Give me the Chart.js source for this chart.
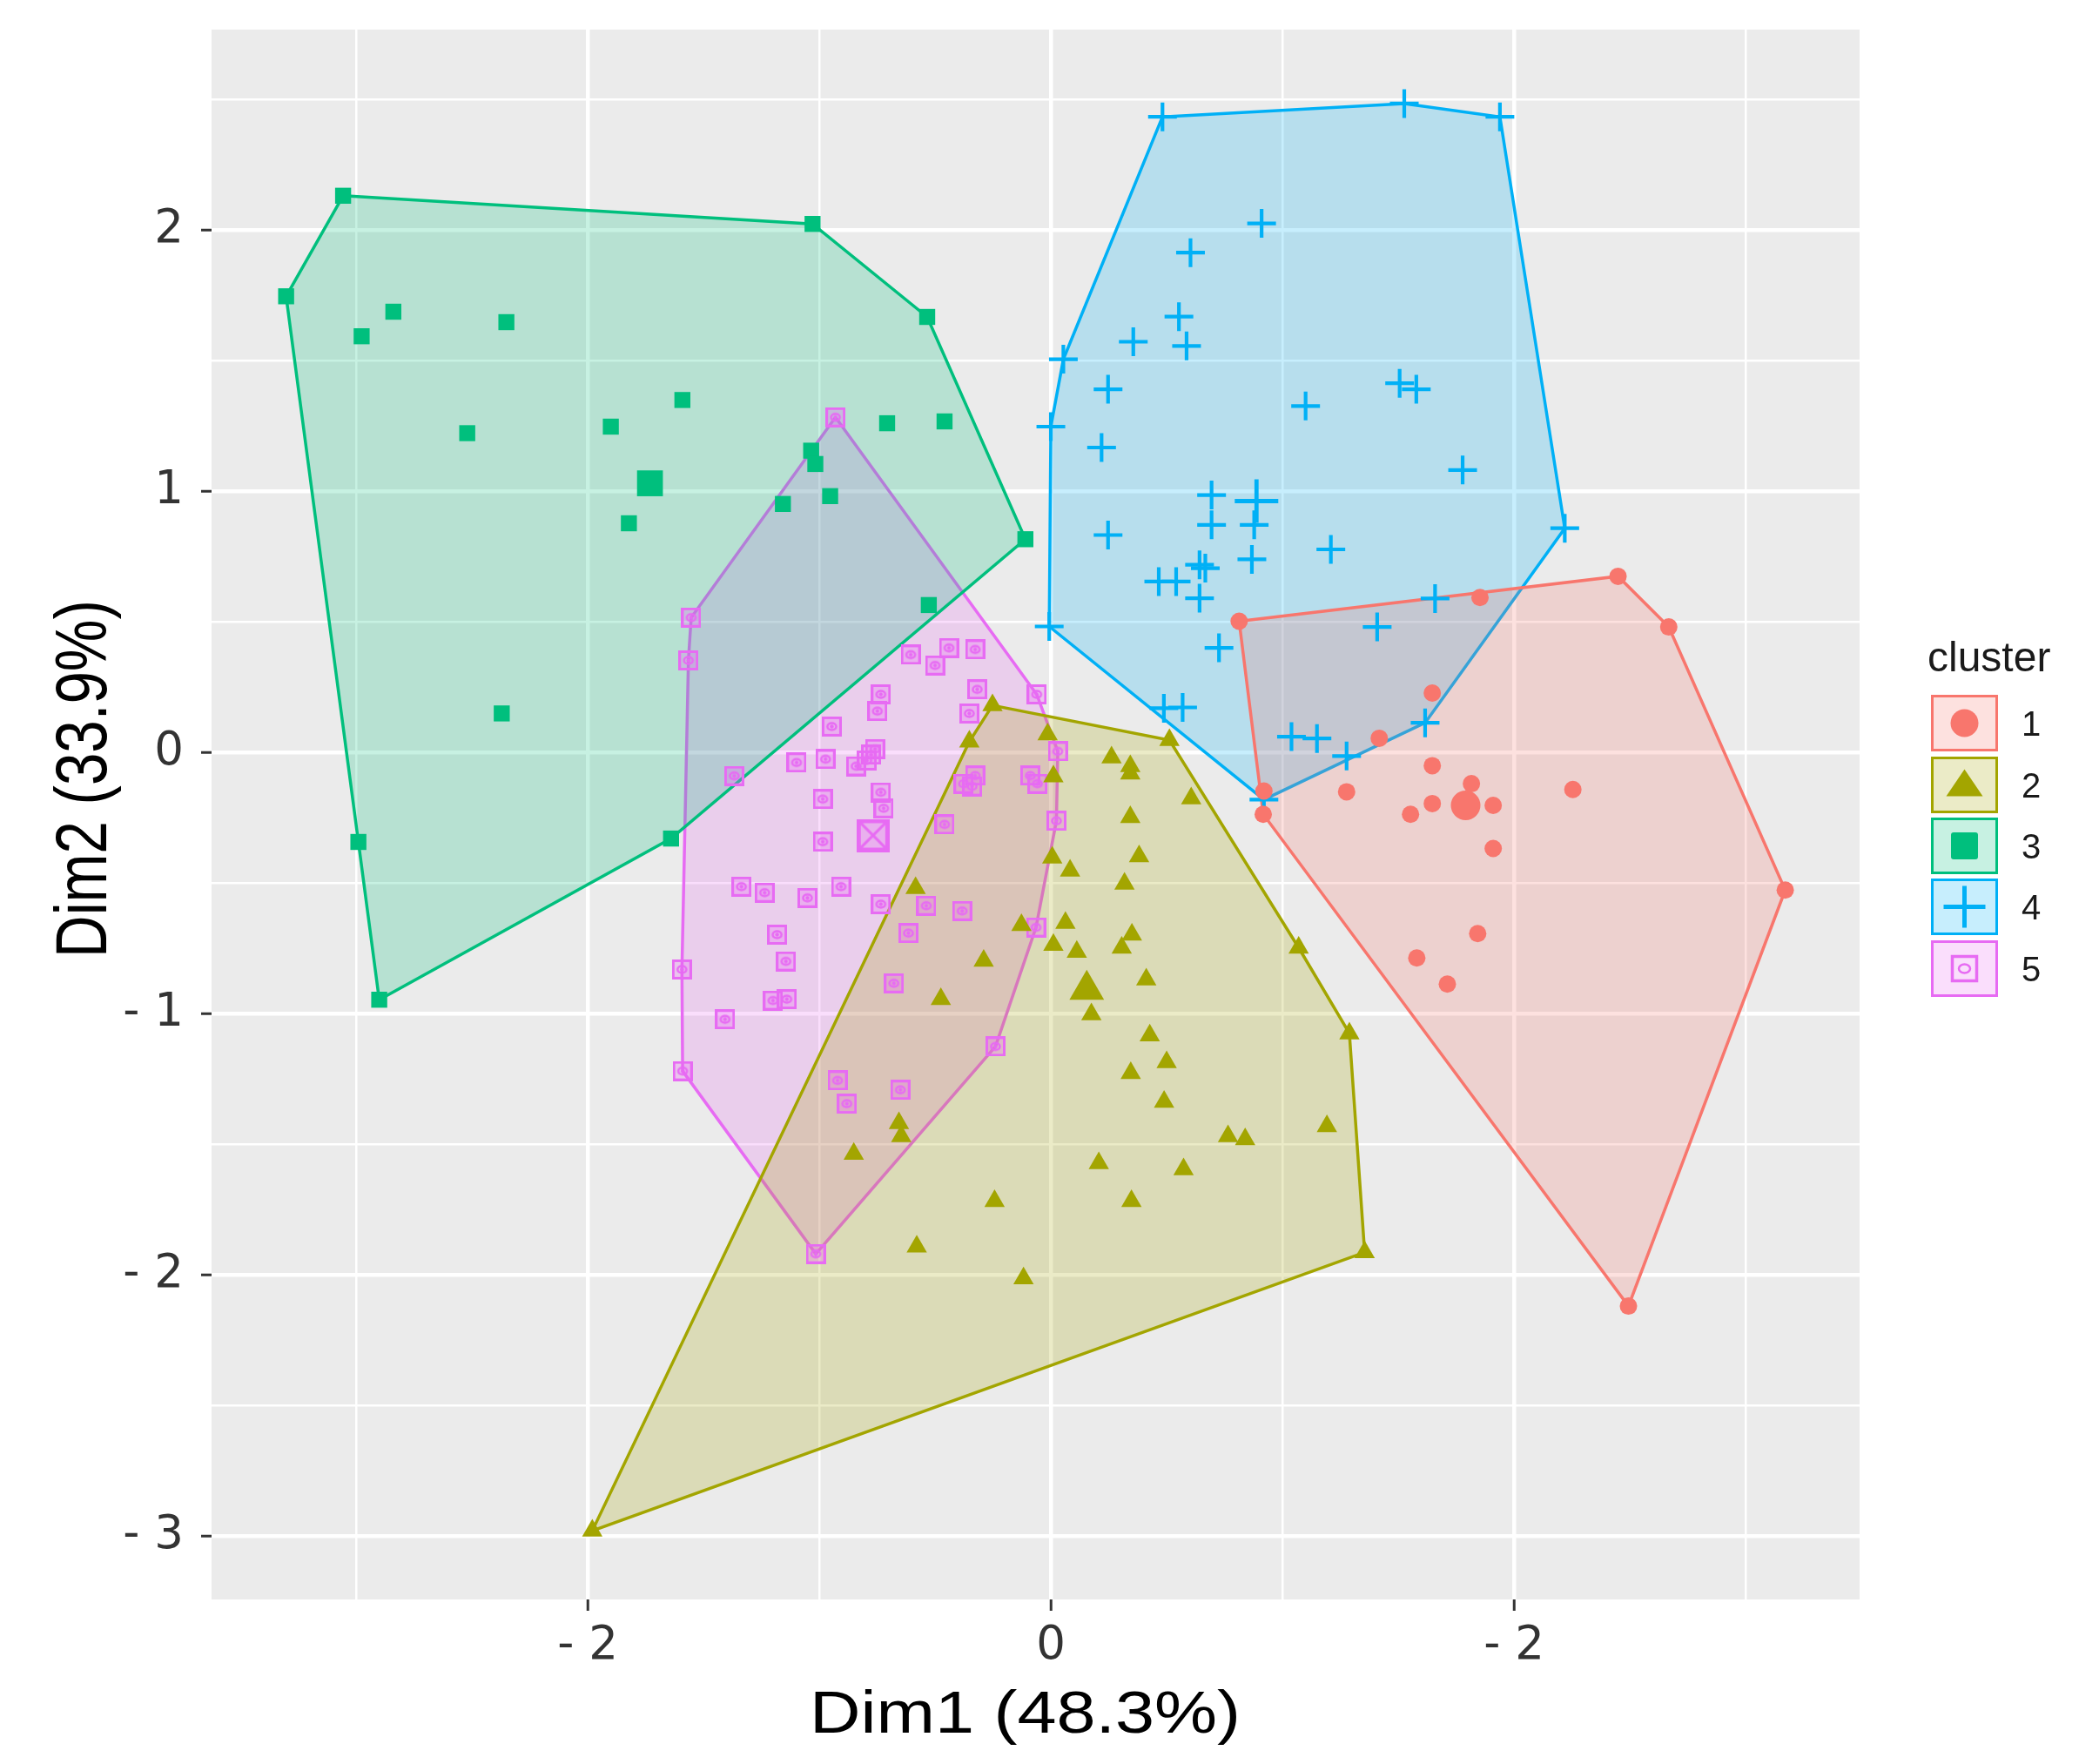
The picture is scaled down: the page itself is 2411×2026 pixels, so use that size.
<!DOCTYPE html>
<html>
<head>
<meta charset="utf-8">
<script src="https://cdn.jsdelivr.net/npm/chart.js@4.4.1/dist/chart.umd.min.js"></script>
<style>
  html, body { margin:0; padding:0; background:#fff; }
  body { width:2411px; height:2026px; position:relative; overflow:hidden; font-family:"Liberation Sans", Arial, sans-serif; }
  #c { position:absolute; left:0; top:0; }
  #legend { position:absolute; left:2212px; top:722px; }
  #legend .ttl { position:absolute; left:2px; top:0; font-size:48px; color:#1a1a1a; white-space:nowrap; line-height:66px; }
  #legend .row { position:absolute; left:6px; width:200px; height:66px; }
  #legend .key { position:absolute; left:0; top:0; width:71px; height:59px; border:3px solid; }
  #legend .key svg { position:absolute; left:0; top:0; }
  #legend .lab { position:absolute; left:104px; top:0; line-height:66px; font-size:40px; color:#1a1a1a; }
</style>
</head>
<body>
<canvas id="c" width="2411" height="2026" style="width:2411px;height:2026px"></canvas>
<div id="legend"></div>
<script>
// ---------------- data ----------------
const clusterNames = ["1", "2", "3", "4", "5"];
const clusterColors = ["#F8766D", "#A3A500", "#00BF7D", "#00B0F6", "#E76BF3"];

const xTitle = "Dim1 (48.3%)";
const yTitle = "Dim2 (33.9%)";
const xMajorTicks = [-2, 0, 2];
const xMajorText  = ["- 2", "0", "- 2"];
const xMinorTicks = [-3, -1, 1, 3];
const yMajorTicks = [-3, -2, -1, 0, 1, 2];
const yMajorText  = ["- 3", "- 2", "- 1", "0", "1", "2"];
const yMinorTicks = [-2.5, -1.5, -0.5, 0.5, 1.5, 2.5];

// cluster 1 (circles)
const hull1 = [[0.813,0.502],[2.449,0.674],[2.668,0.48],[3.171,-0.527],[2.494,-2.12],[0.917,-0.237]];
const pts1 = [[1.853,0.593],[1.647,0.227],[1.418,0.054],[0.92,-0.148],[1.277,-0.151],[1.647,-0.051],[1.816,-0.12],
  [1.647,-0.196],[1.553,-0.237],[1.91,-0.203],[2.254,-0.142],[1.91,-0.368],[1.843,-0.694],[1.58,-0.787],[1.712,-0.887]];
const center1 = [1.791,-0.203];

// cluster 2 (triangles)
const hull2 = [[-0.252,0.18],[0.512,0.047],[1.07,-0.748],[1.289,-1.076],[1.355,-1.914],[-1.98,-2.98],[-0.352,0.041]];
const pts2 = [[-0.014,0.069],[0.262,-0.02],[0.343,-0.053],[0.343,-0.081],[0.011,-0.092],[0.606,-0.176],[0.343,-0.248],
  [0.381,-0.398],[0.006,-0.403],[0.083,-0.453],[0.318,-0.503],[-0.584,-0.52],[0.063,-0.653],[-0.127,-0.661],[0.35,-0.698],
  [0.011,-0.737],[0.112,-0.764],[0.306,-0.748],[-0.29,-0.798],[0.412,-0.87],[-0.475,-0.945],[0.175,-1.003],[0.427,-1.084],
  [0.5,-1.186],[0.345,-1.228],[0.489,-1.338],[1.192,-1.431],[0.765,-1.47],[0.839,-1.481],[0.207,-1.573],[0.573,-1.596],
  [0.348,-1.718],[-0.243,-1.718],[-0.579,-1.892],[-0.118,-2.014],[-0.656,-1.42],[-0.646,-1.47],[-0.851,-1.537]];
const center2 = [0.155,-0.909];

// cluster 3 (squares)
const hull3 = [[-3.056,2.131],[-1.029,2.023],[-0.534,1.667],[-0.11,0.816],[-1.64,-0.33],[-2.90,-0.947],[-2.99,-0.343],[-3.302,1.746]];
const pts3 = [[-2.839,1.687],[-2.976,1.593],[-2.351,1.647],[-1.591,1.349],[-2.52,1.222],[-1.90,1.247],[-1.822,0.877],
  [-1.035,1.155],[-1.017,1.104],[-1.157,0.951],[-0.953,0.981],[-0.707,1.26],[-0.459,1.267],[-0.527,0.564],[-2.371,0.149]];
const center3 = [-1.731,1.03];

// cluster 4 (crosses)
const hull4 = [[0.482,2.433],[1.526,2.484],[1.939,2.433],[2.219,0.858],[1.616,0.113],[0.92,-0.181],[-0.007,0.482],[0.0,1.247],[0.054,1.505]];
const pts4 = [[0.91,2.025],[0.603,1.913],[0.553,1.668],[0.356,1.572],[0.586,1.556],[0.247,1.39],[0.219,1.167],[1.10,1.326],
  [1.506,1.413],[1.578,1.39],[1.778,1.081],[0.694,0.985],[0.694,0.871],[0.878,0.871],[0.247,0.832],[1.209,0.777],[0.868,0.739],
  [0.642,0.718],[0.667,0.705],[0.466,0.654],[0.541,0.654],[0.642,0.59],[0.726,0.40],[1.409,0.48],[1.659,0.589],[0.488,0.169],
  [0.569,0.172],[1.039,0.06],[1.149,0.053],[1.277,-0.014]];
const center4 = [0.888,0.962];

// cluster 5 (boxed circles)
const hull5 = [[-0.93,1.283],[-0.061,0.222],[0.03,0.004],[0.024,-0.262],[-0.064,-0.67],[-0.239,-1.126],[-1.015,-1.92],
  [-1.59,-1.22],[-1.593,-0.831],[-1.565,0.352],[-1.553,0.516]];
const pts5 = [[-1.367,-0.09],[-0.605,0.374],[-0.44,0.40],[-0.50,0.333],[-0.327,0.394],[-0.734,0.222],[-0.749,0.158],
  [-0.318,0.241],[-0.352,0.149],[-0.946,0.099],[-0.759,0.013],[-0.776,-0.009],[-0.795,-0.031],[-0.841,-0.053],[-1.098,-0.039],
  [-0.973,-0.026],[-0.327,-0.089],[-0.377,-0.12],[-0.34,-0.13],[-0.089,-0.089],[-0.058,-0.12],[-0.985,-0.179],[-0.734,-0.153],
  [-0.722,-0.214],[-0.459,-0.276],[-0.985,-0.342],[-1.336,-0.514],[-1.236,-0.537],[-1.051,-0.557],[-0.906,-0.514],
  [-0.734,-0.581],[-0.538,-0.587],[-0.383,-0.607],[-0.615,-0.692],[-1.182,-0.698],[-1.144,-0.80],[-0.678,-0.884],
  [-1.2,-0.95],[-1.14,-0.945],[-1.407,-1.022],[-0.921,-1.256],[-0.881,-1.345],[-0.65,-1.292]];
const center5 = [-0.768,-0.318];

const hulls = [hull1, hull2, hull3, hull4, hull5];
const points = [pts1, pts2, pts3, pts4, pts5];
const centers = [center1, center2, center3, center4, center5];

// ---------------- helpers ----------------
function rgba(hex, a) {
  const n = parseInt(hex.slice(1), 16);
  return `rgba(${(n >> 16) & 255},${(n >> 8) & 255},${n & 255},${a})`;
}
function boxMarker(size, color, cross) {
  const c = document.createElement('canvas');
  c.width = size; c.height = size;
  const g = c.getContext('2d');
  const lw = Math.max(3, size * 0.13);
  g.fillStyle = rgba(color, 0.3);
  g.fillRect(0, 0, size, size);
  g.strokeStyle = color; g.lineWidth = lw;
  g.strokeRect(lw / 2, lw / 2, size - lw, size - lw);
  g.lineWidth = Math.max(2.5, size * 0.08);
  g.beginPath();
  if (cross) {
    g.moveTo(lw, lw); g.lineTo(size - lw, size - lw);
    g.moveTo(size - lw, lw); g.lineTo(lw, size - lw);
  } else {
    g.ellipse(size / 2, size / 2, size * 0.22, size * 0.17, 0, 0, Math.PI * 2);
  }
  g.stroke();
  if (!cross) { g.fillStyle = color; g.beginPath(); g.arc(size/2, size/2, 2.2, 0, Math.PI*2); g.fill(); }
  return c;
}
const pinkSmall = boxMarker(23, clusterColors[4], false);
const pinkBig = boxMarker(38, clusterColors[4], true);

const styleSmall = [
  {pointStyle:'circle', pointRadius:10, borderWidth:0},
  {pointStyle:'triangle', pointRadius:13.5, borderWidth:0},
  {pointStyle:'rect', pointRadius:13, borderWidth:0},
  {pointStyle:'cross', pointRadius:16.5, borderWidth:4.2},
  {pointStyle:pinkSmall, pointRadius:11.5, borderWidth:0}
];
const styleBig = [
  {pointStyle:'circle', pointRadius:17, borderWidth:0},
  {pointStyle:'triangle', pointRadius:23, borderWidth:0},
  {pointStyle:'rect', pointRadius:21, borderWidth:0},
  {pointStyle:'cross', pointRadius:25, borderWidth:4.8},
  {pointStyle:pinkBig, pointRadius:19, borderWidth:0}
];

const toXY = arr => arr.map(p => ({x: p[0], y: p[1]}));

const datasets = [];
for (let k = 0; k < 5; k++) {
  const col = clusterColors[k];
  datasets.push({
    type: 'line',
    label: 'hull ' + clusterNames[k],
    data: toXY(hulls[k].concat([hulls[k][0]])),
    borderColor: col,
    borderWidth: 3.5,
    backgroundColor: rgba(col, 0.22),
    fill: 'shape',
    tension: 0,
    pointRadius: 0,
    order: 10 + k
  });
}
for (let k = 0; k < 5; k++) {
  const col = clusterColors[k];
  datasets.push(Object.assign({
    type: 'scatter',
    label: 'cluster ' + clusterNames[k],
    data: toXY(hulls[k].concat(points[k])),
    backgroundColor: col,
    borderColor: col,
    order: 1
  }, styleSmall[k]));
  datasets.push(Object.assign({
    type: 'scatter',
    label: 'center ' + clusterNames[k],
    data: toXY([centers[k]]),
    backgroundColor: col,
    borderColor: col,
    order: 0
  }, styleBig[k]));
}

const panelBg = {
  id: 'panelBg',
  beforeDraw(chart) {
    const {ctx, chartArea: a} = chart;
    ctx.save();
    ctx.fillStyle = '#FFFFFF';
    ctx.fillRect(0, 0, chart.width, chart.height);
    ctx.fillStyle = '#EBEBEB';
    ctx.fillRect(a.left, a.top, a.right - a.left, a.bottom - a.top);
    ctx.restore();
  }
};

// axis titles (drawn with a slight anisotropic scale to match the reference lettering)
const axisTitles = {
  id: 'axisTitles',
  afterDraw(chart) {
    const ctx = chart.ctx;
    const xs = chart.scales.x, ys = chart.scales.y;
    ctx.save();
    ctx.fillStyle = '#000000';
    ctx.textAlign = 'center';
    ctx.textBaseline = 'alphabetic';
    ctx.font = "81px 'Liberation Sans', Arial, sans-serif";
    ctx.translate((xs.left + xs.right) / 2 - 12, 1990);
    ctx.scale(1, 0.84);
    ctx.fillText(xTitle, 0, 0);
    ctx.restore();

    ctx.save();
    ctx.fillStyle = '#000000';
    ctx.textAlign = 'center';
    ctx.textBaseline = 'alphabetic';
    ctx.font = "84px 'Liberation Sans', Arial, sans-serif";
    ctx.translate(122, (ys.top + ys.bottom) / 2 - 41);
    ctx.rotate(-Math.PI / 2);
    ctx.scale(0.80, 1);
    ctx.fillText(yTitle, 0, 0);
    ctx.restore();
  }
};

const FONT = "'DejaVu Sans', 'Liberation Sans', sans-serif";
const isMajor = (list, v) => list.some(t => Math.abs(t - v) < 1e-9);

new Chart(document.getElementById('c'), {
  type: 'scatter',
  data: { datasets },
  plugins: [panelBg, axisTitles],
  options: {
    responsive: false,
    devicePixelRatio: 1,
    animation: false,
    events: [],
    layout: { padding: { top: 34, right: 275, left: 0, bottom: 0 } },
    plugins: { legend: { display: false }, tooltip: { enabled: false } },
    scales: {
      x: {
        type: 'linear',
        min: -3.624, max: 3.492,
        afterBuildTicks: axis => {
          axis.ticks = xMajorTicks.concat(xMinorTicks).sort((a, b) => a - b).map(v => ({value: v}));
        },
        afterFit: s => { s.height = 189; s.paddingLeft = 0; s.paddingRight = 0; },
        border: { display: false },
        grid: {
          color: '#FFFFFF',
          lineWidth: c => isMajor(xMajorTicks, c.tick.value) ? 4.5 : 2.5,
          tickColor: c => isMajor(xMajorTicks, c.tick.value) ? '#333333' : 'rgba(0,0,0,0)',
          tickLength: 13,
          tickWidth: 3
        },
        ticks: {
          autoSkip: false, maxRotation: 0, minRotation: 0,
          padding: 9,
          color: '#333333',
          font: { family: FONT, size: 53 },
          callback: v => { const i = xMajorTicks.findIndex(t => Math.abs(t - v) < 1e-9); return i >= 0 ? xMajorText[i] : ''; }
        },
        title: { display: false }
      },
      y: {
        type: 'linear',
        min: -3.243, max: 2.767,
        afterBuildTicks: axis => {
          axis.ticks = yMajorTicks.concat(yMinorTicks).sort((a, b) => a - b).map(v => ({value: v}));
        },
        afterFit: s => { s.width = 243; s.paddingTop = 0; s.paddingBottom = 0; },
        border: { display: false },
        grid: {
          color: '#FFFFFF',
          lineWidth: c => isMajor(yMajorTicks, c.tick.value) ? 4.5 : 2.5,
          tickColor: c => isMajor(yMajorTicks, c.tick.value) ? '#333333' : 'rgba(0,0,0,0)',
          tickLength: 12,
          tickWidth: 3
        },
        ticks: {
          autoSkip: false,
          padding: 20,
          color: '#333333',
          font: { family: FONT, size: 53 },
          callback: v => { const i = yMajorTicks.findIndex(t => Math.abs(t - v) < 1e-9); return i >= 0 ? yMajorText[i] : ''; }
        },
        title: { display: false }
      }
    }
  }
});

// ---------------- legend (HTML) ----------------
function legendSymbol(k) {
  const c = clusterColors[k];
  const W = 71, H = 59, cx = W / 2, cy = H / 2;
  let s = '';
  if (k === 0) s = `<circle cx="${cx}" cy="${cy}" r="16" fill="${c}"/>`;
  if (k === 1) s = `<polygon points="${cx},${cy-18} ${cx+21},${cy+13} ${cx-21},${cy+13}" fill="${c}"/>`;
  if (k === 2) s = `<rect x="${cx-15.5}" y="${cy-15.5}" width="31" height="31" rx="3" fill="${c}"/>`;
  if (k === 3) s = `<path d="M${cx-24} ${cy}H${cx+24}M${cx} ${cy-24}V${cy+24}" stroke="${c}" stroke-width="5"/>`;
  if (k === 4) s = `<rect x="${cx-14}" y="${cy-14}" width="28" height="28" fill="none" stroke="${c}" stroke-width="3.5"/>` +
                   `<ellipse cx="${cx}" cy="${cy}" rx="6.5" ry="5" fill="none" stroke="${c}" stroke-width="2.5"/>`;
  return `<svg width="${W}" height="${H}" viewBox="0 0 ${W} ${H}">${s}</svg>`;
}
const leg = document.getElementById('legend');
let html = '<div class="ttl">cluster</div>';
const rowTops = [76, 147, 217, 287, 358];
for (let k = 0; k < 5; k++) {
  html += `<div class="row" style="top:${rowTops[k]}px">` +
          `<div class="key" style="border-color:${clusterColors[k]};background:${rgba(clusterColors[k],0.22)}">${legendSymbol(k)}</div>` +
          `<div class="lab">${clusterNames[k]}</div></div>`;
}
leg.innerHTML = html;
</script>
</body>
</html>
